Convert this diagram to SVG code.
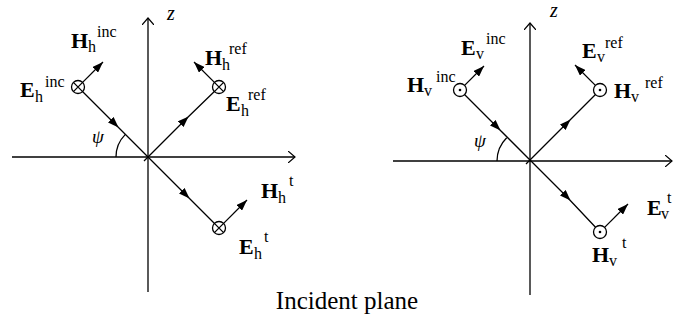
<svg xmlns="http://www.w3.org/2000/svg" width="673" height="320" viewBox="0 0 673 320">
<style>
.ln{stroke:#000;stroke-width:1.3;fill:none}
.cir{stroke:#000;stroke-width:1.3;fill:#fff}
text{font-family:'Liberation Serif','DejaVu Serif',serif;fill:#000}
.b{font-weight:bold;font-size:22px}
.s{font-size:16px}
.it{font-style:italic}
.cap{font-size:25px}
</style>
<defs>
<marker id="ah" viewBox="0 0 11 8" refX="11" refY="4" markerWidth="11" markerHeight="8" markerUnits="userSpaceOnUse" orient="auto"><path d="M0,0 L11,4 L0,8 z" fill="#000"/></marker>
<marker id="mid" viewBox="0 0 11 8" refX="6" refY="4" markerWidth="11" markerHeight="8" markerUnits="userSpaceOnUse" orient="auto"><path d="M0,0 L11,4 L0,8 z" fill="#000"/></marker>
<marker id="open" viewBox="0 0 8 12" refX="7" refY="6" markerWidth="8" markerHeight="12" markerUnits="userSpaceOnUse" orient="auto"><path d="M0,0 L7,6 L0,12" fill="none" stroke="#000" stroke-width="1.2"/></marker>
</defs>

<g id="axes">
<line class="ln" x1="12" y1="157" x2="295" y2="157" marker-end="url(#open)"/>
<line class="ln" x1="148" y1="292" x2="148" y2="18" marker-end="url(#open)"/>
<path class="ln" d="M116,157 A32,32 0 0 1 125.4,134.4"/>
<text class="it" x="167" y="20" font-size="20">z</text>
<text class="it" x="92" y="143" font-size="19">ψ</text>
<line class="ln" x1="393" y1="161" x2="672" y2="161" marker-end="url(#open)"/>
<line class="ln" x1="530" y1="295" x2="530" y2="23" marker-end="url(#open)"/>
<path class="ln" d="M497,161 A33,33 0 0 1 506.7,137.7"/>
<text class="it" x="550" y="17" font-size="20">z</text>
<text class="it" x="474" y="147" font-size="19">ψ</text>
<text class="cap" x="347" y="309" text-anchor="middle">Incident plane</text>
</g>

<g id="connectors">
<path class="ln" d="M78,87 L115,124 L148,157" marker-mid="url(#mid)"/>
<path class="ln" d="M148,157 L186,195 L219,228" marker-mid="url(#mid)"/>
<path class="ln" d="M148,157 L185,120 L219,87" marker-mid="url(#mid)"/>
<line class="ln" x1="144" y1="161" x2="148" y2="157"/>
<line class="ln" x1="82.6" y1="82.4" x2="103" y2="62" marker-end="url(#ah)"/>
<line class="ln" x1="214.4" y1="82.4" x2="194" y2="62" marker-end="url(#ah)"/>
<line class="ln" x1="223.6" y1="223.4" x2="247" y2="200" marker-end="url(#ah)"/>

<path class="ln" d="M460,90 L497,127 L530,160" marker-mid="url(#mid)"/>
<path class="ln" d="M530,160 L567,197 L600,232" marker-mid="url(#mid)"/>
<path class="ln" d="M530,160 L567,123 L600,90" marker-mid="url(#mid)"/>
<line class="ln" x1="526" y1="164" x2="530" y2="160"/>
<line class="ln" x1="464.6" y1="85.4" x2="484" y2="66" marker-end="url(#ah)"/>
<line class="ln" x1="595.4" y1="85.4" x2="575" y2="65" marker-end="url(#ah)"/>
<line class="ln" x1="604.6" y1="227.4" x2="628" y2="204" marker-end="url(#ah)"/>
</g>

<g id="h-inc">
<circle class="cir" cx="78" cy="87" r="6.5"/>
<path class="ln" d="M73.4,82.4 L82.6,91.6 M82.6,82.4 L73.4,91.6"/>
<text class="b" x="71" y="48">H</text><text class="s" x="88" y="52">h</text><text class="s" x="97" y="37">inc</text>
<text class="b" x="20" y="97">E</text><text class="s" x="35" y="102">h</text><text class="s" x="45" y="87">inc</text>
</g>
<g id="h-ref">
<circle class="cir" cx="219" cy="87" r="6.5"/>
<path class="ln" d="M214.4,82.4 L223.6,91.6 M223.6,82.4 L214.4,91.6"/>
<text class="b" x="205" y="65">H</text><text class="s" x="222" y="70">h</text><text class="s" x="229" y="54">ref</text>
<text class="b" x="226" y="111">E</text><text class="s" x="241" y="116">h</text><text class="s" x="248" y="100">ref</text>
</g>
<g id="h-t">
<circle class="cir" cx="219" cy="228" r="6.5"/>
<path class="ln" d="M214.4,223.4 L223.6,232.6 M223.6,223.4 L214.4,232.6"/>
<text class="b" x="261" y="198">H</text><text class="s" x="278" y="203">h</text><text class="s" x="289" y="186">t</text>
<text class="b" x="239" y="254">E</text><text class="s" x="254" y="259">h</text><text class="s" x="264" y="242">t</text>
</g>

<g id="v-inc">
<circle class="cir" cx="460" cy="90" r="6.5"/>
<circle cx="460" cy="90" r="1.3" fill="#000"/>
<text class="b" x="461" y="55">E</text><text class="s" x="476" y="59">v</text><text class="s" x="486" y="44">inc</text>
<text class="b" x="407" y="92">H</text><text class="s" x="424" y="96">v</text><text class="s" x="436" y="82">inc</text>
</g>
<g id="v-ref">
<circle class="cir" cx="600" cy="90" r="6.5"/>
<circle cx="600" cy="90" r="1.3" fill="#000"/>
<text class="b" x="582" y="58">E</text><text class="s" x="597" y="62">v</text><text class="s" x="605" y="48">ref</text>
<text class="b" x="614" y="98">H</text><text class="s" x="631" y="102">v</text><text class="s" x="645" y="88">ref</text>
</g>
<g id="v-t">
<circle class="cir" cx="600" cy="232" r="6.5"/>
<circle cx="600" cy="232" r="1.3" fill="#000"/>
<text class="b" x="647" y="215">E</text><text class="s" x="661" y="219">v</text><text class="s" x="667" y="203">t</text>
<text class="b" x="592" y="262">H</text><text class="s" x="609" y="266">v</text><text class="s" x="622" y="248">t</text>
</g>
</svg>
